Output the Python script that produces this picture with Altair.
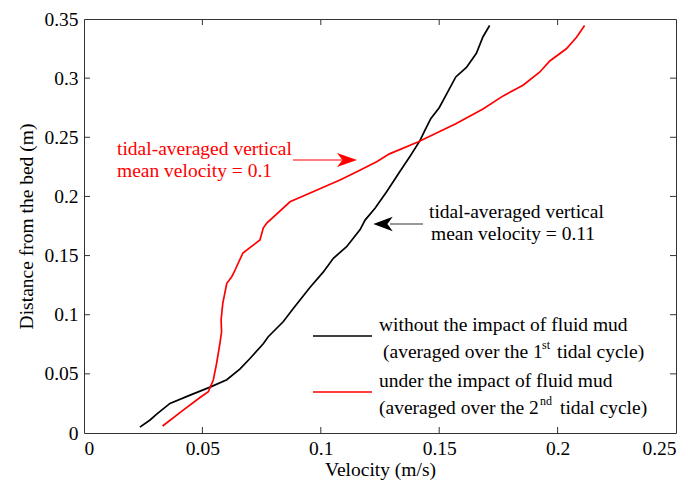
import altair as alt
import pandas as pd

# ---- data ----
black_v = [0.0236, 0.0279, 0.0307, 0.0363, 0.0448, 0.0535, 0.0603, 0.0658, 0.0701, 0.0757,
           0.0778, 0.0841, 0.0883, 0.0954, 0.1010, 0.1053, 0.1109, 0.1166, 0.1187,
           0.1229, 0.1278, 0.1334, 0.1377, 0.1418, 0.1440, 0.1465, 0.1500, 0.1535, 0.1570,
           0.1615, 0.1657, 0.1685, 0.1713]
black_z = [0.005, 0.011, 0.016, 0.025, 0.032, 0.039, 0.045, 0.054, 0.063, 0.0755,
           0.0814, 0.094, 0.105, 0.123, 0.136, 0.1477, 0.1575, 0.172, 0.180,
           0.190, 0.204, 0.221, 0.234, 0.247, 0.256, 0.266, 0.275, 0.288, 0.301,
           0.309, 0.321, 0.335, 0.3445]

red_v = [0.0332, 0.0419, 0.0490, 0.0525, 0.0546, 0.0560, 0.0574, 0.0581, 0.0579, 0.0586,
         0.0603, 0.0624, 0.0638, 0.0671, 0.0743, 0.0757, 0.0772, 0.0870, 0.0955, 0.1081,
         0.1152, 0.1236, 0.1290, 0.1410, 0.1570, 0.1685, 0.1770, 0.1854, 0.1924, 0.1967,
         0.2037, 0.2080, 0.2114]
red_z = [0.0059, 0.0194, 0.0300, 0.0349, 0.0448, 0.0589, 0.0758, 0.0856, 0.0955, 0.1096,
         0.1266, 0.1321, 0.1378, 0.1522, 0.1632, 0.1733, 0.1775, 0.1955, 0.2029, 0.2139,
         0.2209, 0.2294, 0.2360, 0.2460, 0.2615, 0.2740, 0.2850, 0.2940, 0.3050, 0.3145,
         0.3248, 0.3346, 0.3445]

x_ticks = [0, 0.05, 0.1, 0.15, 0.2, 0.25]
y_ticks = [0, 0.05, 0.1, 0.15, 0.2, 0.25, 0.3, 0.35]
x_inner = [0.05, 0.1, 0.15, 0.2]
y_inner = [0.05, 0.1, 0.15, 0.2, 0.25, 0.3]

FONT = "Liberation Serif, Times New Roman, Times, DejaVu Serif, serif"
FS = 19.5
W, H = 592, 414

curves = pd.DataFrame(
    [{"v": v, "z": z, "s": "black", "i": i} for i, (v, z) in enumerate(zip(black_v, black_z))]
    + [{"v": v, "z": z, "s": "red", "i": i} for i, (v, z) in enumerate(zip(red_v, red_z))]
)

xs = alt.Scale(domain=[0, 0.25], nice=False, zero=False)
ys = alt.Scale(domain=[0, 0.35], nice=False, zero=False)

xax = alt.Axis(values=x_ticks, format="~g", grid=False, ticks=False, tickSize=0, domain=False,
               labelFont=FONT, labelFontSize=FS, labelColor="black", labelPadding=6,
               title="Velocity (m/s)", titleFont=FONT, titleFontSize=FS, titleFontWeight="normal",
               titleColor="black", titleBaseline="alphabetic", titleY=42)
yax = alt.Axis(values=y_ticks, format="~g", grid=False, ticks=False, tickSize=0, domain=False,
               labelFont=FONT, labelFontSize=FS, labelColor="black", labelPadding=6,
               title="Distance from the bed (m)", titleFont=FONT, titleFontSize=FS,
               titleFontWeight="normal", titleColor="black", titleBaseline="alphabetic", titleX=-52)

lines = alt.Chart(curves).mark_line(strokeWidth=1.7).encode(
    x=alt.X("v:Q", scale=xs, axis=xax),
    y=alt.Y("z:Q", scale=ys, axis=yax),
    color=alt.Color("s:N", scale=alt.Scale(domain=["black", "red"], range=["#000000", "#ff0000"]), legend=None),
    detail="s:N",
    order="i:Q",
)

# inward ticks (box style)
tx = pd.DataFrame({"t": x_inner})
ty = pd.DataFrame({"t": y_inner})
TC = "#333333"
tick_b = alt.Chart(tx).mark_rule(color=TC, strokeWidth=1).encode(x=alt.X("t:Q", scale=xs), y=alt.value(H), y2=alt.value(H - 6))
tick_t = alt.Chart(tx).mark_rule(color=TC, strokeWidth=1).encode(x=alt.X("t:Q", scale=xs), y=alt.value(0), y2=alt.value(6))
tick_l = alt.Chart(ty).mark_rule(color=TC, strokeWidth=1).encode(y=alt.Y("t:Q", scale=ys), x=alt.value(0), x2=alt.value(6))
tick_r = alt.Chart(ty).mark_rule(color=TC, strokeWidth=1).encode(y=alt.Y("t:Q", scale=ys), x=alt.value(W), x2=alt.value(W - 6))

# annotations (data coordinates)
red_txt = pd.DataFrame({"x": [0.01394, 0.01394], "y": [0.2350, 0.2164],
                        "t": ["tidal-averaged vertical", "mean velocity = 0.1"]})
blk_txt = pd.DataFrame({"x": [0.14569, 0.14654], "y": [0.18176, 0.16316],
                        "t": ["tidal-averaged vertical", "mean velocity = 0.11"]})
ann_red = alt.Chart(red_txt).mark_text(font=FONT, fontSize=FS, color="#ff0000", align="left", baseline="alphabetic").encode(
    x=alt.X("x:Q", scale=xs), y=alt.Y("y:Q", scale=ys), text="t:N")
ann_blk = alt.Chart(blk_txt).mark_text(font=FONT, fontSize=FS, color="black", align="left", baseline="alphabetic").encode(
    x=alt.X("x:Q", scale=xs), y=alt.Y("y:Q", scale=ys), text="t:N")

red_shaft = alt.Chart(pd.DataFrame({"x": [0.08826], "x2": [0.1102], "y": [0.2308]})).mark_rule(color="#ff0000", strokeWidth=1.2).encode(
    x=alt.X("x:Q", scale=xs), x2="x2:Q", y=alt.Y("y:Q", scale=ys))
blk_shaft = alt.Chart(pd.DataFrame({"x": [0.1292], "x2": [0.14316], "y": [0.17669]})).mark_rule(color="#333333", strokeWidth=1.2).encode(
    x=alt.X("x:Q", scale=xs), x2="x2:Q", y=alt.Y("y:Q", scale=ys))
red_head = alt.Chart(pd.DataFrame({"x": [0.11107], "y": [0.2308]})).mark_point(
    shape="M1,0L-1,-0.7L-0.45,0L-1,0.7Z", size=400, filled=True, color="#ff0000", opacity=1).encode(
    x=alt.X("x:Q", scale=xs), y=alt.Y("y:Q", scale=ys))
blk_head = alt.Chart(pd.DataFrame({"x": [0.12627], "y": [0.17669]})).mark_point(
    shape="M-1,0L1,-0.75L0.45,0L1,0.75Z", size=380, filled=True, color="black", opacity=1).encode(
    x=alt.X("x:Q", scale=xs), y=alt.Y("y:Q", scale=ys))

# legend (pixel placement inside the plot area)
L0 = 84
T0 = 19
leg_lines = pd.DataFrame({"x": [313 - L0, 313 - L0], "x2": [372 - L0, 372 - L0],
                          "y": [336 - T0, 392 - T0], "s": ["black", "red"]})
leg_rule = alt.Chart(leg_lines).mark_rule(strokeWidth=1.7).encode(
    x=alt.X("x:Q", scale=None), x2="x2:Q", y=alt.Y("y:Q", scale=None),
    color=alt.Color("s:N", scale=alt.Scale(domain=["black", "red"], range=["#000000", "#ff0000"]), legend=None))
leg_txt = pd.DataFrame({
    "x": [379 - L0, 383 - L0, 557 - L0, 379 - L0, 379 - L0, 560 - L0],
    "y": [331 - T0, 358 - T0, 358 - T0, 387 - T0, 414 - T0, 414 - T0],
    "t": ["without the impact of fluid mud", "(averaged over the 1", "tidal cycle)",
          "under the impact of fluid mud", "(averaged over the 2", "tidal cycle)"]})
leg_text = alt.Chart(leg_txt).mark_text(font=FONT, fontSize=FS, color="black", align="left", baseline="alphabetic").encode(
    x=alt.X("x:Q", scale=None), y=alt.Y("y:Q", scale=None), text="t:N")
sup_txt = pd.DataFrame({"x": [542 - L0, 540 - L0], "y": [349 - T0, 405 - T0], "t": ["st", "nd"]})
sup_text = alt.Chart(sup_txt).mark_text(font=FONT, fontSize=12, color="black", align="left", baseline="alphabetic").encode(
    x=alt.X("x:Q", scale=None), y=alt.Y("y:Q", scale=None), text="t:N")

chart = alt.layer(
    tick_b, tick_t, tick_l, tick_r, lines, red_shaft, blk_shaft, red_head, blk_head,
    ann_red, ann_blk, leg_rule, leg_text, sup_text
).resolve_scale(x="shared", y="shared").properties(
    width=W, height=H,
    autosize=alt.AutoSizeParams(type="none"),
    padding={"left": 84, "top": 19, "right": 19, "bottom": 56},
    background="white",
).configure_view(stroke="#333333", strokeWidth=1)

chart.save("out.html", embed_options={"renderer": "svg", "actions": False})
